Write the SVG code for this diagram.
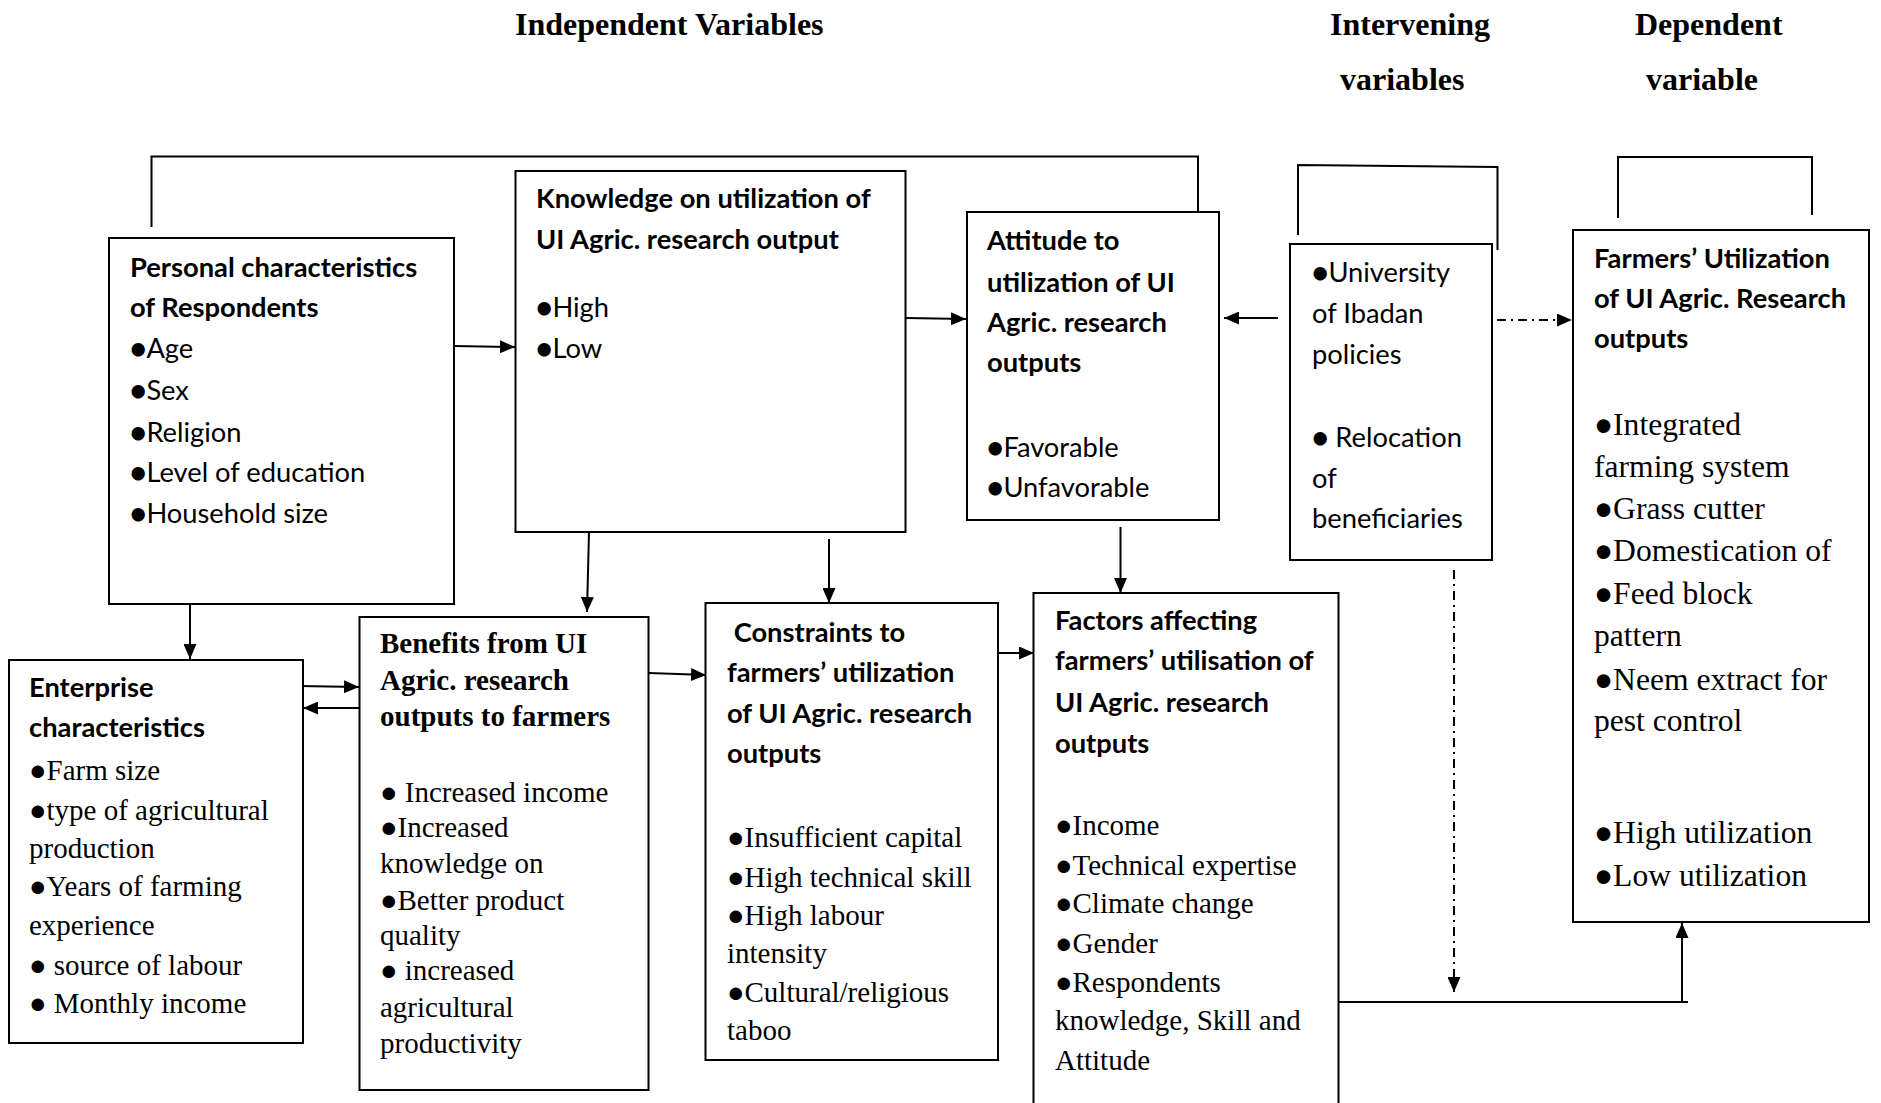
<svg xmlns="http://www.w3.org/2000/svg" width="1881" height="1103" viewBox="0 0 1881 1103">
<style>
.box{fill:#fff;stroke:#000;stroke-width:2}
.ln{fill:none;stroke:#000;stroke-width:2}
.dd{fill:none;stroke:#000;stroke-width:2;stroke-dasharray:9 5 2 5}
.sh{font-family:Lato,"Liberation Sans","DejaVu Sans",sans-serif;font-size:27.3px;font-weight:bold;fill:#000}
.s{font-family:Lato,"Liberation Sans","DejaVu Sans",sans-serif;font-size:27.3px;fill:#000}
.t{font-family:"Liberation Serif","DejaVu Serif",serif;font-size:29px;fill:#000}
.tb{font-family:"Liberation Serif","DejaVu Serif",serif;font-size:29px;font-weight:bold;fill:#000}
.tl{font-family:"Liberation Serif","DejaVu Serif",serif;font-size:31.6px;fill:#000}
.title{font-family:"Liberation Serif","DejaVu Serif",serif;font-size:32px;font-weight:bold;fill:#000}
</style>
<defs>
<marker id="ah" viewBox="0 0 15 13" refX="15" refY="6.5" markerWidth="15" markerHeight="13" markerUnits="userSpaceOnUse" orient="auto"><path d="M0,0 L15,6.5 L0,13 z" fill="#000"/></marker>
</defs>
<rect width="1881" height="1103" fill="#fff"/>

<g id="titles">
<text class="title" x="515" y="35">Independent Variables</text>
<text class="title" x="1330" y="35">Intervening</text>
<text class="title" x="1340" y="90">variables</text>
<text class="title" x="1635" y="35">Dependent</text>
<text class="title" x="1646" y="90">variable</text>
</g>

<g id="connectors">
<path class="ln" d="M151.5,227 V156.5 H1198 V227"/>
<path class="ln" d="M1298,235 V165 L1497.5,167 V250"/>
<path class="ln" d="M1618,218 V157 H1812 V215"/>
<line class="ln" x1="454" y1="346" x2="515" y2="347" marker-end="url(#ah)"/>
<line class="ln" x1="906" y1="318" x2="966" y2="319" marker-end="url(#ah)"/>
<line class="ln" x1="1278" y1="318" x2="1224" y2="318" marker-end="url(#ah)"/>
<line class="dd" x1="1497" y1="320" x2="1572" y2="320" marker-end="url(#ah)"/>
<line class="ln" x1="589" y1="532" x2="587" y2="612" marker-end="url(#ah)"/>
<line class="ln" x1="829" y1="539" x2="829" y2="603" marker-end="url(#ah)"/>
<line class="ln" x1="1120.5" y1="527" x2="1120.5" y2="593" marker-end="url(#ah)"/>
<line class="ln" x1="190" y1="593" x2="190" y2="659" marker-end="url(#ah)"/>
<line class="ln" x1="299" y1="686" x2="359" y2="687" marker-end="url(#ah)"/>
<line class="ln" x1="359" y1="708" x2="303" y2="708" marker-end="url(#ah)"/>
<line class="ln" x1="649" y1="673" x2="706" y2="675" marker-end="url(#ah)"/>
<line class="ln" x1="999" y1="653" x2="1034" y2="653" marker-end="url(#ah)"/>
<line class="dd" x1="1454" y1="570" x2="1454" y2="992" marker-end="url(#ah)"/>
<line class="ln" x1="1338" y1="1002" x2="1688" y2="1002"/>
<line class="ln" x1="1682" y1="1002" x2="1682" y2="923" marker-end="url(#ah)"/>
</g>

<g id="personal">
<rect class="box" x="109" y="238" width="345" height="366"/>
<text class="sh" x="130" y="277">Personal characteristics</text>
<text class="sh" x="130" y="317">of Respondents</text>
<text class="s" x="130" y="358">●Age</text>
<text class="s" x="130" y="400">●Sex</text>
<text class="s" x="130" y="442">●Religion</text>
<text class="s" x="130" y="482">●Level of education</text>
<text class="s" x="130" y="523">●Household size</text>
</g>

<g id="knowledge">
<rect class="box" x="515.5" y="171" width="390" height="361"/>
<text class="sh" x="536" y="208">Knowledge on utilization of</text>
<text class="sh" x="536" y="249">UI Agric. research output</text>
<text class="s" x="536" y="317">●High</text>
<text class="s" x="536" y="358">●Low</text>
</g>

<g id="attitude">
<rect class="box" x="967" y="212" width="252" height="308"/>
<text class="sh" x="987" y="250">Attitude to</text>
<text class="sh" x="987" y="292">utilization of UI</text>
<text class="sh" x="987" y="332">Agric. research</text>
<text class="sh" x="987" y="372">outputs</text>
<text class="s" x="987" y="457">●Favorable</text>
<text class="s" x="987" y="497">●Unfavorable</text>
</g>

<g id="intervening">
<rect class="box" x="1290" y="244" width="202" height="316"/>
<text class="s" x="1312" y="282">●University</text>
<text class="s" x="1312" y="323">of Ibadan</text>
<text class="s" x="1312" y="364">policies</text>
<text class="s" x="1312" y="447">● Relocation</text>
<text class="s" x="1312" y="488">of</text>
<text class="s" x="1312" y="528">beneficiaries</text>
</g>

<g id="farmers-utilization">
<rect class="box" x="1573" y="230" width="296" height="692"/>
<text class="sh" x="1594" y="268">Farmers’ Utilization</text>
<text class="sh" x="1594" y="308">of UI Agric. Research</text>
<text class="sh" x="1594" y="348">outputs</text>
<text class="tl" x="1594" y="435">●Integrated</text>
<text class="tl" x="1594" y="477">farming system</text>
<text class="tl" x="1594" y="519">●Grass cutter</text>
<text class="tl" x="1594" y="561">●Domestication of</text>
<text class="tl" x="1594" y="604">●Feed block</text>
<text class="tl" x="1594" y="646">pattern</text>
<text class="tl" x="1594" y="690">●Neem extract for</text>
<text class="tl" x="1594" y="731">pest control</text>
<text class="tl" x="1594" y="843">●High utilization</text>
<text class="tl" x="1594" y="886">●Low utilization</text>
</g>

<g id="enterprise">
<rect class="box" x="9" y="660" width="294" height="383"/>
<text class="sh" x="29" y="697">Enterprise</text>
<text class="sh" x="29" y="737">characteristics</text>
<text class="t" x="29" y="780">●Farm size</text>
<text class="t" x="29" y="820">●type of agricultural</text>
<text class="t" x="29" y="858">production</text>
<text class="t" x="29" y="896">●Years of farming</text>
<text class="t" x="29" y="935">experience</text>
<text class="t" x="29" y="975">● source of labour</text>
<text class="t" x="29" y="1013">● Monthly income</text>
</g>

<g id="benefits">
<rect class="box" x="359.5" y="617" width="289" height="473"/>
<text class="tb" x="380" y="653">Benefits from UI</text>
<text class="tb" x="380" y="690">Agric. research</text>
<text class="tb" x="380" y="726">outputs to farmers</text>
<text class="t" x="380" y="802">● Increased income</text>
<text class="t" x="380" y="837">●Increased</text>
<text class="t" x="380" y="873">knowledge on</text>
<text class="t" x="380" y="910">●Better product</text>
<text class="t" x="380" y="945">quality</text>
<text class="t" x="380" y="980">● increased</text>
<text class="t" x="380" y="1017">agricultural</text>
<text class="t" x="380" y="1053">productivity</text>
</g>

<g id="constraints">
<rect class="box" x="705.5" y="603" width="292.5" height="457"/>
<text class="sh" x="727" y="642" xml:space="preserve"> Constraints to</text>
<text class="sh" x="727" y="682">farmers’ utilization</text>
<text class="sh" x="727" y="723">of UI Agric. research</text>
<text class="sh" x="727" y="763">outputs</text>
<text class="t" x="727" y="847">●Insufficient capital</text>
<text class="t" x="727" y="887">●High technical skill</text>
<text class="t" x="727" y="925">●High labour</text>
<text class="t" x="727" y="963">intensity</text>
<text class="t" x="727" y="1002">●Cultural/religious</text>
<text class="t" x="727" y="1040">taboo</text>
</g>

<g id="factors">
<rect class="box" x="1033.5" y="593" width="305" height="530"/>
<text class="sh" x="1055" y="630">Factors affecting</text>
<text class="sh" x="1055" y="670">farmers’ utilisation of</text>
<text class="sh" x="1055" y="712">UI Agric. research</text>
<text class="sh" x="1055" y="753">outputs</text>
<text class="t" x="1055" y="835">●Income</text>
<text class="t" x="1055" y="875">●Technical expertise</text>
<text class="t" x="1055" y="913">●Climate change</text>
<text class="t" x="1055" y="953">●Gender</text>
<text class="t" x="1055" y="992">●Respondents</text>
<text class="t" x="1055" y="1030">knowledge, Skill and</text>
<text class="t" x="1055" y="1070">Attitude</text>
</g>
</svg>
